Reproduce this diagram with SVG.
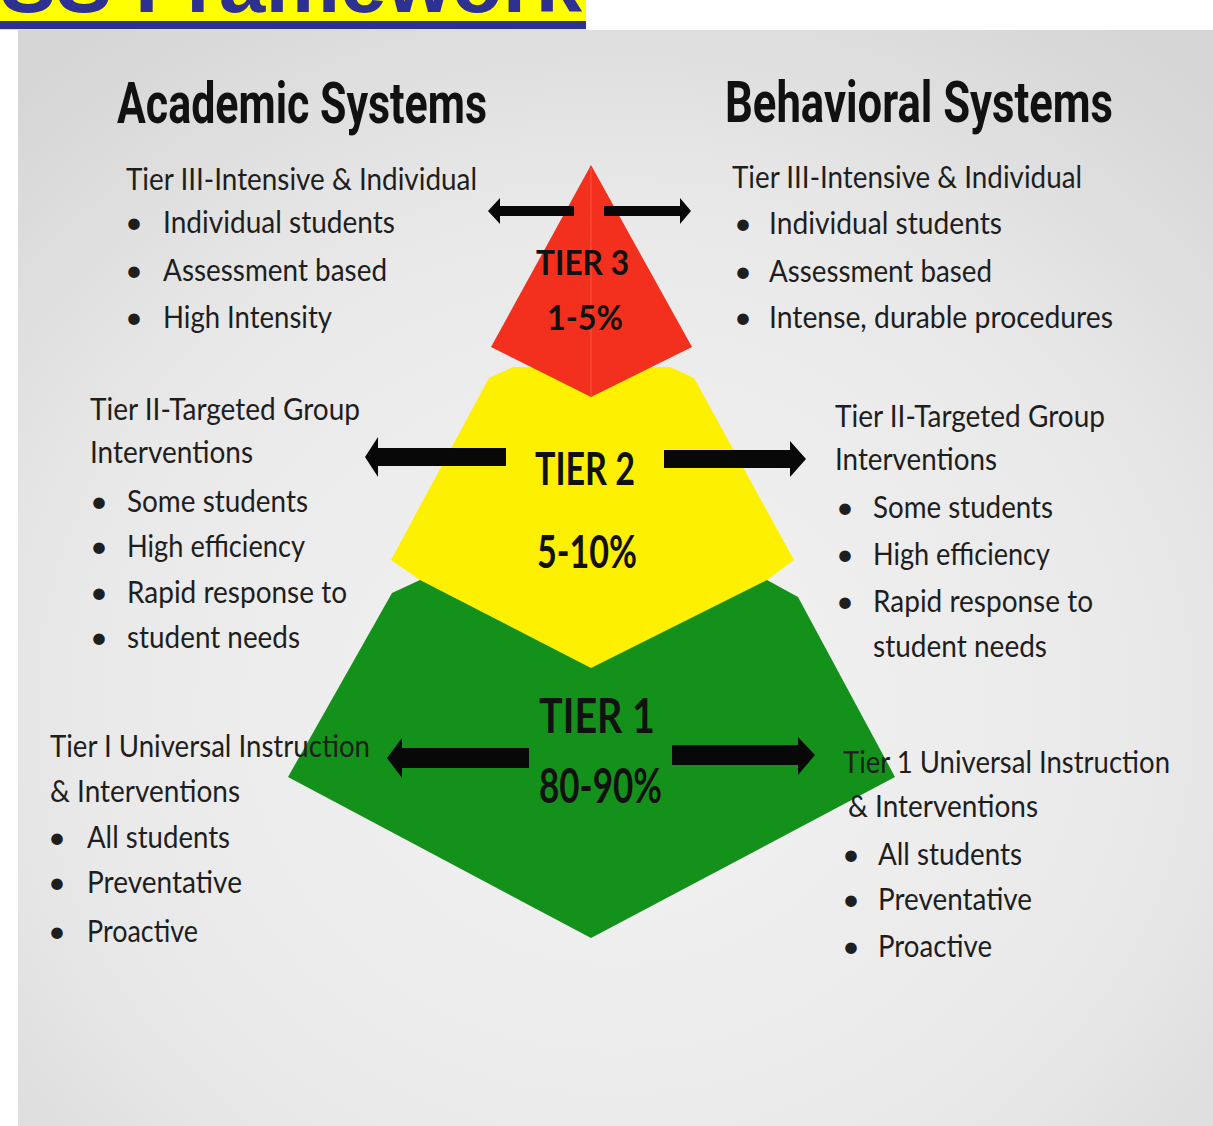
<svg xmlns="http://www.w3.org/2000/svg" width="1213" height="1126" viewBox="0 0 1213 1126">
<defs>
<radialGradient id="bg" cx="0.5" cy="0.62" r="0.75">
<stop offset="0" stop-color="#f3f3f3"/>
<stop offset="0.6" stop-color="#e9e9e9"/>
<stop offset="1" stop-color="#d6d6d6"/>
</radialGradient>
<style>
.body{font-family:Lato,"Open Sans","Liberation Sans",sans-serif;font-size:31px;fill:#1e1e1e}
.head{font-family:Roboto,"Liberation Sans",sans-serif;font-size:57px;font-weight:700;fill:#111}
.tier{font-family:Lato,"Liberation Sans",sans-serif;font-weight:700;fill:#111;text-anchor:start}
.arrow{fill:#080808}
.title{font-family:"Liberation Sans",Arial,sans-serif;font-weight:700;font-size:84px;fill:#2e3192}
</style>
</defs>
<rect x="0" y="0" width="1213" height="1126" fill="#ffffff"/>
<rect x="18" y="30" width="1195" height="1096" fill="url(#bg)"/>
<g id="title">
<rect x="0" y="0" width="586" height="30" fill="#ffff00"/>
<text class="title" x="0" y="12" textLength="582" lengthAdjust="spacingAndGlyphs">SS Framework</text>
<rect x="0" y="21" width="586" height="8" fill="#2e3192"/>
</g>
<g id="tier1">
<polygon points="420,580 767,580 798,597 895,777 591,938 288,777 392,593" fill="#14911a"/>
</g>
<g id="tier2">
<polygon points="513,367 670,367 694,378 794,560 767,580 591,668 420,580 391,560 489,378" fill="#fdf000"/>
</g>
<g id="tier3">
<polygon points="591,165 692,347 591,397 491,347" fill="#f3301d"/>
<line x1="591" y1="168" x2="591" y2="396" stroke="#ff7060" stroke-width="1" opacity="0.6"/>
</g>
<g id="connectors">
<polygon class="arrow" points="574,206 500,206 500,198 488,211 500,224 500,216 574,216"/>
<polygon class="arrow" points="604,206 680,206 680,198 691,211 680,224 680,216 604,216"/>
<polygon class="arrow" points="506,448 378,448 378,437 365,457 378,477 378,466 506,466"/>
<polygon class="arrow" points="664,450 790,450 790,441 806,459 790,477 790,468 664,468"/>
<polygon class="arrow" points="529,748 402,748 402,738 387,758 402,778 402,768 529,768"/>
<polygon class="arrow" points="672,745 798,745 798,737 815,755 798,775 798,765 672,765"/>
</g>
<g id="tier-labels">
<text class="tier" x="536" y="275" font-size="34" textLength="93" lengthAdjust="spacingAndGlyphs">TIER 3</text>
<text class="tier" x="547" y="330" font-size="34" textLength="76" lengthAdjust="spacingAndGlyphs">1-5%</text>
<text class="tier" x="535" y="485" font-size="45" textLength="100" lengthAdjust="spacingAndGlyphs">TIER 2</text>
<text class="tier" x="537" y="568" font-size="45" textLength="100" lengthAdjust="spacingAndGlyphs">5-10%</text>
<text class="tier" x="539" y="733" font-size="48" textLength="116" lengthAdjust="spacingAndGlyphs">TIER 1</text>
<text class="tier" x="539" y="803" font-size="48" textLength="123" lengthAdjust="spacingAndGlyphs">80-90%</text>
</g>
<g id="academic-heading">
<text class="head" x="117" y="123" textLength="370" lengthAdjust="spacingAndGlyphs">Academic Systems</text>
</g>
<g id="behavioral-heading">
<text class="head" x="725" y="122" textLength="388" lengthAdjust="spacingAndGlyphs">Behavioral Systems</text>
</g>
<g id="academic-tier3" class="body">
<text x="126" y="190" textLength="351" lengthAdjust="spacingAndGlyphs">Tier III-Intensive &amp; Individual</text>
<text x="125" y="233">•</text><text x="163" y="233" textLength="232" lengthAdjust="spacingAndGlyphs">Individual students</text>
<text x="125" y="281">•</text><text x="163" y="281" textLength="224" lengthAdjust="spacingAndGlyphs">Assessment based</text>
<text x="125" y="328">•</text><text x="163" y="328" textLength="169" lengthAdjust="spacingAndGlyphs">High Intensity</text>
</g>
<g id="behavioral-tier3" class="body">
<text x="732" y="188" textLength="350" lengthAdjust="spacingAndGlyphs">Tier III-Intensive &amp; Individual</text>
<text x="734" y="234">•</text><text x="769" y="234" textLength="233" lengthAdjust="spacingAndGlyphs">Individual students</text>
<text x="734" y="282">•</text><text x="769" y="282" textLength="223" lengthAdjust="spacingAndGlyphs">Assessment based</text>
<text x="734" y="328">•</text><text x="769" y="328" textLength="344" lengthAdjust="spacingAndGlyphs">Intense, durable procedures</text>
</g>
<g id="academic-tier2" class="body">
<text x="90" y="420" textLength="270" lengthAdjust="spacingAndGlyphs">Tier II-Targeted Group</text>
<text x="90" y="463" textLength="163" lengthAdjust="spacingAndGlyphs">Interventions</text>
<text x="90" y="512">•</text><text x="127" y="512" textLength="181" lengthAdjust="spacingAndGlyphs">Some students</text>
<text x="90" y="557">•</text><text x="127" y="557" textLength="178" lengthAdjust="spacingAndGlyphs">High efficiency</text>
<text x="90" y="603">•</text><text x="127" y="603" textLength="220" lengthAdjust="spacingAndGlyphs">Rapid response to</text>
<text x="90" y="648">•</text><text x="127" y="648" textLength="173" lengthAdjust="spacingAndGlyphs">student needs</text>
</g>
<g id="behavioral-tier2" class="body">
<text x="835" y="427" textLength="270" lengthAdjust="spacingAndGlyphs">Tier II-Targeted Group</text>
<text x="835" y="470" textLength="162" lengthAdjust="spacingAndGlyphs">Interventions</text>
<text x="836" y="518">•</text><text x="873" y="518" textLength="180" lengthAdjust="spacingAndGlyphs">Some students</text>
<text x="836" y="565">•</text><text x="873" y="565" textLength="177" lengthAdjust="spacingAndGlyphs">High efficiency</text>
<text x="836" y="612">•</text><text x="873" y="612" textLength="220" lengthAdjust="spacingAndGlyphs">Rapid response to</text>
<text x="873" y="657" textLength="174" lengthAdjust="spacingAndGlyphs">student needs</text>
</g>
<g id="academic-tier1" class="body">
<text x="50" y="757" textLength="320" lengthAdjust="spacingAndGlyphs">Tier I Universal Instruction</text>
<text x="50" y="802" textLength="190" lengthAdjust="spacingAndGlyphs">&amp; Interventions</text>
<text x="48" y="848">•</text><text x="87" y="848" textLength="143" lengthAdjust="spacingAndGlyphs">All students</text>
<text x="48" y="893">•</text><text x="87" y="893" textLength="155" lengthAdjust="spacingAndGlyphs">Preventative</text>
<text x="48" y="942">•</text><text x="87" y="942" textLength="111" lengthAdjust="spacingAndGlyphs">Proactive</text>
</g>
<g id="behavioral-tier1" class="body">
<text x="843" y="773" textLength="327" lengthAdjust="spacingAndGlyphs">Tier 1 Universal Instruction</text>
<text x="848" y="817" textLength="190" lengthAdjust="spacingAndGlyphs">&amp; Interventions</text>
<text x="842" y="865">•</text><text x="878" y="865" textLength="144" lengthAdjust="spacingAndGlyphs">All students</text>
<text x="842" y="910">•</text><text x="878" y="910" textLength="154" lengthAdjust="spacingAndGlyphs">Preventative</text>
<text x="842" y="957">•</text><text x="878" y="957" textLength="114" lengthAdjust="spacingAndGlyphs">Proactive</text>
</g>
</svg>
